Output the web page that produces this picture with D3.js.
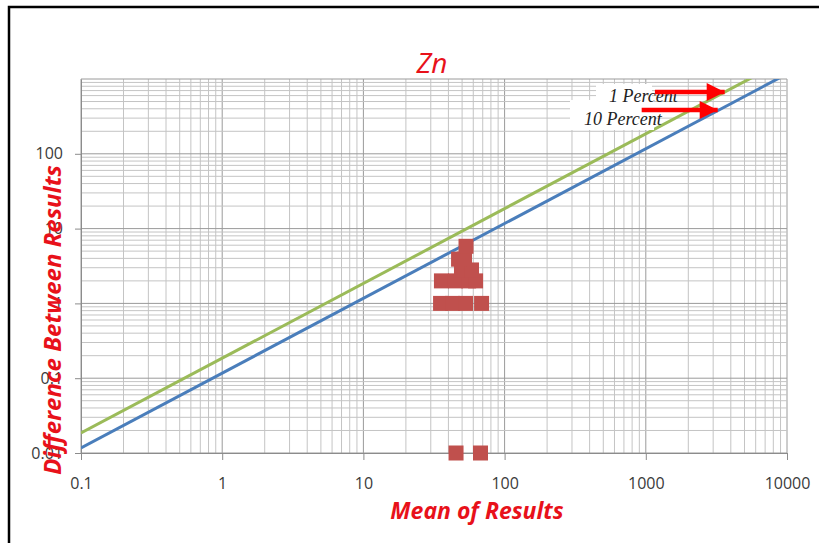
<!DOCTYPE html>
<html>
<head>
<meta charset="utf-8">
<script src="https://cdn.jsdelivr.net/npm/d3@7"></script>
<style>
  body { margin: 0; background: #fff; }
  text { font-family: "Open Sans", "Noto Sans", sans-serif; }
</style>
</head>
<body>
<svg id="chart" width="819" height="543"></svg>
<script>
const width = 819;
const height = 543;

// sample points (mean of results, difference between results)
const meanValues = [35.2, 42.8, 52.9, 68.7, 35.7, 44.9, 55.6, 62.3, 49.5, 58.3, 47.2, 52, 53.3, 45.3, 67.5];
const diffValues = [1, 1, 1, 1, 2, 2, 2, 2, 2.8, 2.8, 3.9, 3.9, 5.8, 0.01, 0.01];

// reference lines
const lineMeans = [0.1, 10000];
const tenPercent = [0.0117, 1170];
const onePercent = [0.0185, 1850];

const xTicks = [0.1, 1, 10, 100, 1000, 10000];
const xTickLabels = ["0.1", "1", "10", "100", "1000", "10000"];
const yTicks = [0.01, 0.1, 1, 10, 100];
const yTickLabels = ["0.01", "0.1", "1", "10", "100"];

// annotations: label, arrow tail (mean), arrow tip (mean), level (diff)
const notes = [
    { label: "1 Percent", tail: 1160, tip: 3620, level: 670 },
    { label: "10 Percent", tail: 935, tip: 3230, level: 385 }
];

const margin = { left: 81, right: 32, top: 79, bottom: 90 };

const svg = d3.select("#chart");

const x = d3.scaleLog()
    .domain([0.1, 10000])
    .range([margin.left, width - margin.right]);

const y = d3.scaleLog()
    .domain([0.01, 1000])
    .range([height - margin.bottom, margin.top]);

// frame
svg.append("rect")
    .attr("x", 9).attr("y", 7)
    .attr("width", 900).attr("height", 600)
    .attr("fill", "#fff")
    .attr("stroke", "#000")
    .attr("stroke-width", 2.5);

// minor + major grid
function minorValues(lo, hi) {
    const out = [];
    for (let d = lo; d < hi; d *= 10) {
        for (let k = 1; k < 10; k++) out.push(d * k);
    }
    out.push(hi);
    return out;
}

const grid = svg.append("g");
grid.selectAll("line.vx")
    .data(minorValues(0.1, 10000))
    .enter().append("line")
    .attr("x1", d => x(d)).attr("x2", d => x(d))
    .attr("y1", y(1000)).attr("y2", y(0.01))
    .attr("stroke", d => xTicks.some(t => Math.abs(t - d) < t * 1e-6) ? "#9a9a9a" : "#c4c4c4")
    .attr("stroke-width", 1);

grid.selectAll("line.hy")
    .data(minorValues(0.01, 1000))
    .enter().append("line")
    .attr("x1", x(0.1)).attr("x2", x(10000))
    .attr("y1", d => y(d)).attr("y2", d => y(d))
    .attr("stroke", d => yTicks.concat([1000]).some(t => Math.abs(t - d) < t * 1e-6) ? "#9a9a9a" : "#c4c4c4")
    .attr("stroke-width", 1);

// axes
const xAxis = d3.axisBottom(x)
    .tickValues(xTicks)
    .tickFormat((d, i) => xTickLabels[i])
    .tickSize(7)
    .tickSizeOuter(0)
    .tickPadding(18);
svg.append("g")
    .attr("transform", `translate(0,${y(0.01)})`)
    .call(xAxis)
    .call(g => g.select(".domain").attr("stroke", "#8c8c8c"))
    .call(g => g.selectAll(".tick line").attr("stroke", "#8c8c8c"))
    .call(g => g.selectAll("text").attr("fill", "#3a3a3a").style("font-size", "16px")
        .style("font-family", "'Open Sans', sans-serif"));

const yAxis = d3.axisLeft(y)
    .tickValues(yTicks)
    .tickFormat((d, i) => yTickLabels[i])
    .tickSize(6)
    .tickSizeOuter(0)
    .tickPadding(12);
svg.append("g")
    .attr("transform", `translate(${x(0.1)},0)`)
    .call(yAxis)
    .call(g => g.select(".domain").attr("stroke", "#8c8c8c"))
    .call(g => g.selectAll(".tick line").attr("stroke", "#8c8c8c"))
    .call(g => g.selectAll("text").attr("fill", "#3a3a3a").style("font-size", "16px")
        .style("font-family", "'Open Sans', sans-serif"));

// reference lines, clipped to the plot
svg.append("clipPath").attr("id", "plotClip")
    .append("rect")
    .attr("x", x(0.1)).attr("y", y(1000))
    .attr("width", x(10000) - x(0.1))
    .attr("height", y(0.01) - y(1000));

const line = d3.line()
    .x(d => x(d[0]))
    .y(d => y(d[1]));

const lines = svg.append("g").attr("clip-path", "url(#plotClip)");
lines.append("path")
    .datum(d3.zip(lineMeans, tenPercent))
    .attr("d", line)
    .attr("fill", "none")
    .attr("stroke", "#4a7ebb")
    .attr("stroke-width", 3);
lines.append("path")
    .datum(d3.zip(lineMeans, onePercent))
    .attr("d", line)
    .attr("fill", "none")
    .attr("stroke", "#9bbb59")
    .attr("stroke-width", 3);

// points
const size = 15;
svg.append("g")
    .selectAll("rect")
    .data(d3.zip(meanValues, diffValues))
    .enter().append("rect")
    .attr("x", d => x(d[0]) - size / 2)
    .attr("y", d => y(d[1]) - size / 2)
    .attr("width", size)
    .attr("height", size)
    .attr("fill", "#c0504d");

// annotation boxes + labels
svg.append("rect")
    .attr("x", 596).attr("y", 84).attr("width", 56).attr("height", 22)
    .attr("fill", "#fff");
svg.append("rect")
    .attr("x", 570).attr("y", 100).attr("width", 84).attr("height", 30)
    .attr("fill", "#fff");

svg.append("text")
    .attr("x", 609).attr("y", 102)
    .style("font-family", "'Liberation Serif', 'DejaVu Serif', serif")
    .style("font-style", "italic")
    .style("font-size", "18px")
    .attr("fill", "#222")
    .text(notes[0].label);
svg.append("text")
    .attr("x", 584).attr("y", 125)
    .style("font-family", "'Liberation Serif', 'DejaVu Serif', serif")
    .style("font-style", "italic")
    .style("font-size", "18px")
    .attr("fill", "#222")
    .text(notes[1].label);

// arrows
svg.append("defs").append("marker")
    .attr("id", "head")
    .attr("viewBox", "0 0 10 10")
    .attr("refX", 10).attr("refY", 5)
    .attr("markerWidth", 5).attr("markerHeight", 4)
    .attr("markerUnits", "strokeWidth")
    .attr("orient", "auto")
    .append("path")
    .attr("d", "M0,0 L10,5 L0,10 Z")
    .attr("fill", "#f00");

svg.append("g")
    .selectAll("line")
    .data(notes)
    .enter().append("line")
    .attr("x1", d => x(d.tail))
    .attr("x2", d => x(d.tip))
    .attr("y1", d => y(d.level))
    .attr("y2", d => y(d.level))
    .attr("stroke", "#f00")
    .attr("stroke-width", 4.5)
    .attr("marker-end", "url(#head)");

// titles
svg.append("text")
    .attr("x", 432).attr("y", 73)
    .attr("text-anchor", "middle")
    .style("font-style", "italic")
    .style("font-size", "28px")
    .attr("fill", "#e8111a")
    .text("Zn");

svg.append("text")
    .attr("x", 477).attr("y", 519)
    .attr("text-anchor", "middle")
    .style("font-style", "italic")
    .style("font-weight", "bold")
    .style("font-size", "23px")
    .attr("fill", "#e8111a")
    .text("Mean of Results");

svg.append("text")
    .attr("transform", "translate(61,320) rotate(-90)")
    .attr("text-anchor", "middle")
    .style("font-style", "italic")
    .style("font-weight", "bold")
    .style("font-size", "24px")
    .attr("fill", "#e8111a")
    .text("Difference Between Results");
</script>
</body>
</html>
